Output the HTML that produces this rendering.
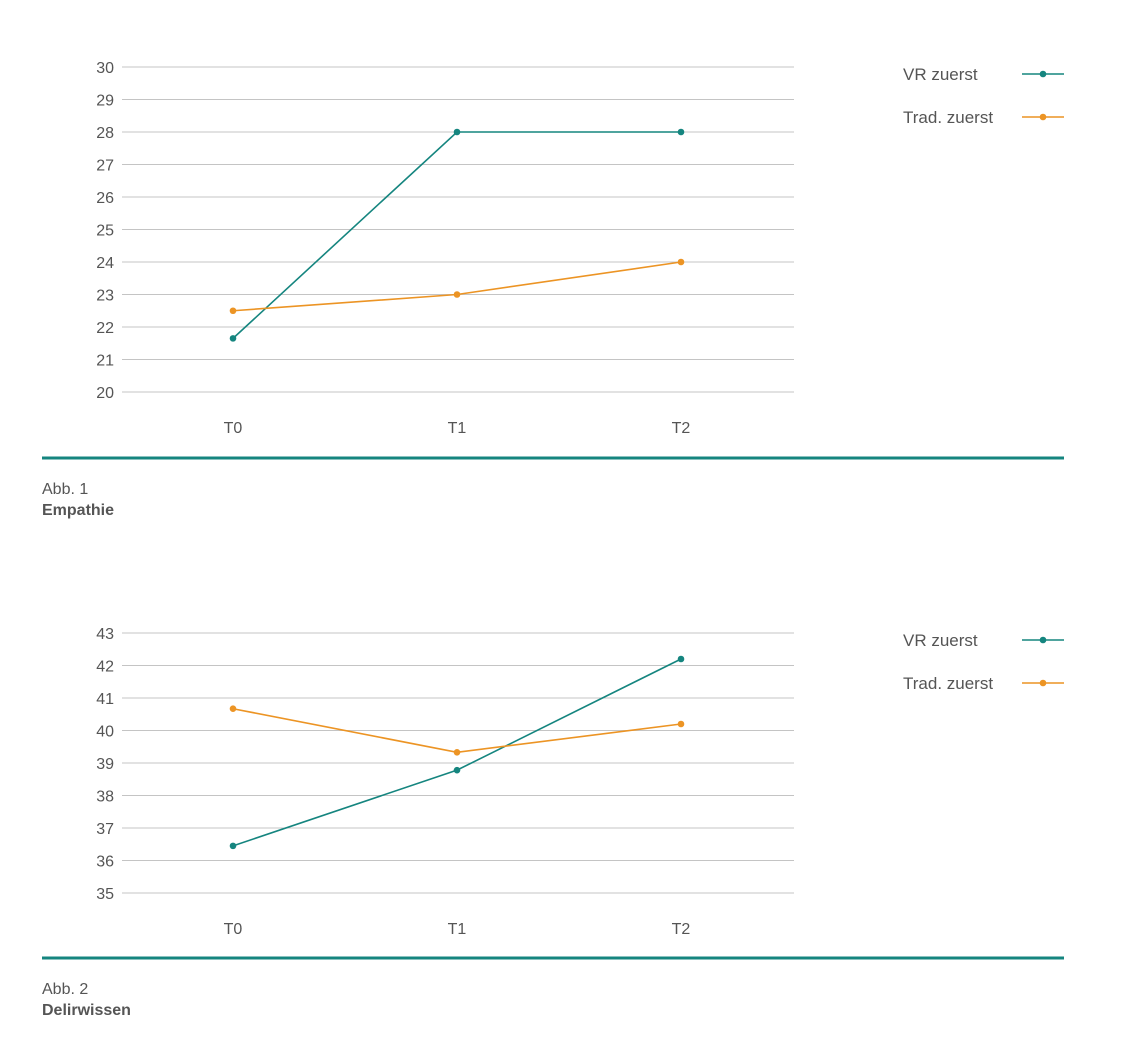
<!DOCTYPE html>
<html><head><meta charset="utf-8">
<style>
body{margin:0;background:#fff;width:1140px;height:1051px;overflow:hidden;font-family:"Liberation Sans",sans-serif;}
svg text{font-family:"Liberation Sans",sans-serif;fill:#555;}
</style></head>
<body>
<svg id="s" width="1140" height="1051" xmlns="http://www.w3.org/2000/svg"></svg>
<script>
const categories = ["T0","T1","T2"];
const seriesNames = ["VR zuerst","Trad. zuerst"];
const empathieVR = [21.65, 28, 28];
const empathieTrad = [22.5, 23, 24];
const empathieTicks = [20,21,22,23,24,25,26,27,28,29,30];
const delirVR = [36.45, 38.78, 42.2];
const delirTrad = [40.67, 39.33, 40.2];
const delirTicks = [35,36,37,38,39,40,41,42,43];

const NS="http://www.w3.org/2000/svg";
const svg=document.getElementById('s');
const colors=["#15857f","#ec9424"];
function mk(tag,attrs,parent){const e=document.createElementNS(NS,tag);for(const k in attrs)e.setAttribute(k,attrs[k]);(parent||svg).appendChild(e);return e;}

function chart(id,ticks,seriesA,seriesB,yTop,yBot,capY,abb,title){
  const g=mk('g',{});
  
  
  const mn=ticks[0],mx=ticks[ticks.length-1];
  const y=v=>yBot-(v-mn)/(mx-mn)*(yBot-yTop);
  const x=i=>233+i*224;
  ticks.forEach(t=>{
    const l=mk('line',{x1:122,x2:794,y1:y(t),y2:y(t),stroke:'#c4c4c4','stroke-width':1},g);
    
    
    const tx=mk('text',{x:114,y:y(t)+6,'text-anchor':'end','font-size':16},g);
    tx.textContent=t;
    
    
  });
  categories.forEach((c,i)=>{
    const tx=mk('text',{x:x(i),y:yBot+41,'text-anchor':'middle','font-size':16},g);
    tx.textContent=c;
    
    
  });
  [seriesA,seriesB].forEach((s,si)=>{
    const p=mk('polyline',{points:s.map((v,i)=>x(i)+','+y(v)).join(' '),fill:'none',stroke:colors[si],'stroke-width':1.6},g);
    
    
    s.forEach((v,i)=>{
      const c=mk('circle',{cx:x(i),cy:y(v),r:3.3,fill:colors[si]},g);
      
      
    });
    const ly=yTop+7+si*43;
    const lt=mk('text',{x:903,y:ly+6,'font-size':17},g);
    lt.textContent=seriesNames[si];
    
    
    const ll=mk('line',{x1:1022,x2:1064,y1:ly,y2:ly,stroke:colors[si],'stroke-width':1.4},g);
    
    
    mk('circle',{cx:1043,cy:ly,r:3.3,fill:colors[si]},g);
  });
  const r=mk('line',{x1:42,x2:1064,y1:capY,y2:capY,stroke:'#15857f','stroke-width':3},g);
  
  
  const a=mk('text',{x:42,y:capY+36,'font-size':16},g);
  a.textContent=abb;
  
  
  const t=mk('text',{x:42,y:capY+57,'font-size':16,'font-weight':'bold'},g);
  t.textContent=title;
  
  
}
chart('empathie',empathieTicks,empathieVR,empathieTrad,67,392,458,'Abb. 1','Empathie');
chart('delirwissen',delirTicks,delirVR,delirTrad,633,893,958,'Abb. 2','Delirwissen');
</script>
</body></html>
